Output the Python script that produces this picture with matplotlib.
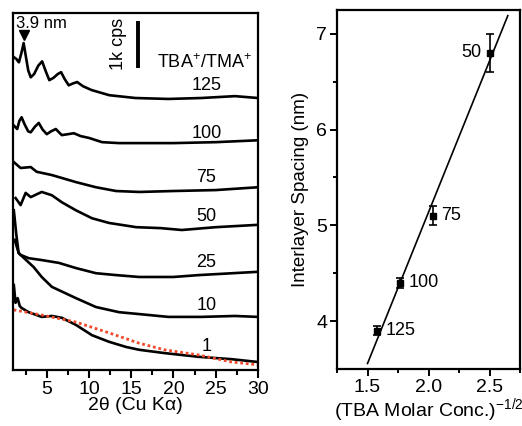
import numpy as np
import matplotlib
matplotlib.use("Agg")
import matplotlib.pyplot as plt

plt.rcParams['font.family'] = ['Liberation Sans', 'DejaVu Sans']
plt.rcParams['mathtext.fontset'] = 'custom'
plt.rcParams['mathtext.rm'] = 'Liberation Sans'
plt.rcParams['mathtext.it'] = 'Liberation Sans:italic'

# XRD traces, 2theta (deg) and offset intensity (kcps), one per TBA+/TMA+ ratio
tt_125 = [1.1, 1.4, 1.7, 2.0, 2.26, 2.5, 2.8, 3.1, 3.5, 4.0, 4.45, 4.9, 5.3, 5.8, 6.3, 6.7, 7.1, 7.6,
          8.1, 8.6, 9.3, 10.3, 12.4, 15.5, 19.4, 23.3, 27.3, 30]
i_125 = [6.66, 6.62, 6.55, 6.75, 6.96, 6.70, 6.38, 6.23, 6.30, 6.48, 6.57, 6.35, 6.17, 6.22, 6.30, 6.34, 6.20, 6.06,
         6.10, 6.13, 6.04, 5.96, 5.85, 5.79, 5.77, 5.79, 5.83, 5.79]

tt_100 = [1.07, 1.5, 1.75, 2.02, 2.4, 2.8, 3.1, 3.6, 4.05, 4.5, 5.0, 5.5, 6.07, 6.5, 6.79, 7.5, 8.21, 9.0,
          10.0, 11.55, 13.57, 15.95, 20, 25, 30]
i_100 = [5.21, 5.13, 5.30, 5.38, 5.22, 5.08, 5.06, 5.18, 5.26, 5.12, 5.02, 5.08, 5.13, 5.05, 5.00, 5.02, 5.04, 4.98,
         4.94, 4.85, 4.83, 4.83, 4.83, 4.85, 4.89]

tt_75 = [1.07, 1.9, 3.1, 3.8, 5.6, 8.45, 10.83, 13.21, 15.95, 20, 25, 30]
i_75 = [4.43, 4.30, 4.32, 4.22, 4.15, 4.00, 3.89, 3.81, 3.79, 3.81, 3.83, 3.89]

tt_50 = [1.31, 1.9, 2.5, 3.1, 4.4, 5.6, 6.79, 8.45, 10.36, 12.38, 15.6, 18.5, 21, 25, 30]
i_50 = [3.66, 3.51, 3.77, 3.68, 3.79, 3.72, 3.57, 3.40, 3.23, 3.13, 3.04, 3.02, 2.98, 3.04, 3.09]

tt_25 = [1.1, 1.4, 1.67, 1.9, 2.86, 4.4, 6.43, 8.45, 10.83, 13.21, 15.95, 20, 23, 27, 30]
i_25 = [3.40, 2.87, 2.49, 2.45, 2.38, 2.34, 2.28, 2.17, 2.06, 2.02, 1.98, 1.98, 2.02, 2.06, 2.09]

tt_10 = [1.2, 1.67, 1.9, 3.45, 4.4, 5.6, 6.43, 8.45, 10.83, 13.57, 15.95, 19.4, 23.3, 27.3, 30]
i_10 = [2.77, 2.49, 2.45, 2.19, 1.98, 1.77, 1.70, 1.53, 1.34, 1.23, 1.19, 1.13, 1.13, 1.15, 1.13]

tt_1 = [1.1, 1.3, 1.55, 1.8, 2.02, 2.86, 4.4, 5.6, 6.79, 8.45, 10.36, 12.38, 14.4, 15.95, 18.93, 22.98, 26.9, 30]
i_1 = [1.81, 1.43, 1.53, 1.36, 1.32, 1.23, 1.13, 1.15, 1.11, 0.96, 0.74, 0.60, 0.49, 0.43, 0.36, 0.28, 0.23, 0.17]

# background reference under the ratio-1 trace
tt_bg = [1.07, 4.4, 8.45, 12.38, 15.95, 18.93, 22.98, 26.9, 30]
i_bg = [1.28, 1.17, 1.02, 0.79, 0.57, 0.43, 0.32, 0.17, 0.11]

ratios = ['125', '100', '75', '50', '25', '10', '1']
label_y = [6.06, 5.04, 4.09, 3.26, 2.28, 1.38, 0.49]

# interlayer spacing vs (TBA molar conc.)^-1/2
conc_x = [1.58, 1.77, 2.04, 2.50]
spacing = [3.9, 4.4, 5.1, 6.8]
spacing_err = [0.05, 0.05, 0.1, 0.2]
pt_labels = ['125', '100', '75', '50']

fig = plt.figure(figsize=(5.22, 4.26), dpi=100)
ax1 = fig.add_axes([0.0249, 0.1315, 0.469, 0.838])
ax2 = fig.add_axes([0.6456, 0.1338, 0.3506, 0.843])

# --- left: XRD patterns ---
for tt, ii in [(tt_125, i_125), (tt_100, i_100), (tt_75, i_75), (tt_50, i_50),
               (tt_25, i_25), (tt_10, i_10), (tt_1, i_1)]:
    ax1.plot(tt, ii, color='black', lw=1.9, solid_joinstyle='round')
ax1.plot(tt_bg, i_bg, color='#f04a2a', lw=2, linestyle=(0, (1, 1)))

for r, y in zip(ratios, label_y):
    ax1.text(23.9, y, r, fontsize=13, ha='center', va='center')

ax1.plot([2.26], [7.13], marker='v', color='black', markersize=7)
ax1.text(4.4, 7.37, '3.9 nm', fontsize=12, ha='center', va='center')
ax1.plot([15.8, 15.8], [6.43, 7.43], color='black', lw=2.8, solid_capstyle='butt')
ax1.text(13.5, 6.94, '1k cps', fontsize=13, rotation=90, ha='center', va='center')
ax1.text(23.7, 6.55, 'TBA$^{+}$/TMA$^{+}$', fontsize=13, ha='center', va='center')

ax1.set_xlim(1, 30)
ax1.set_ylim(0, 7.6)
ax1.set_xticks([5, 10, 15, 20, 25, 30])
ax1.set_xticks(np.arange(2.5, 30.1, 2.5), minor=True)
ax1.set_yticks([])
ax1.tick_params(axis='x', which='major', direction='out', length=6, width=1.5, labelsize=14, pad=2)
ax1.tick_params(axis='x', which='minor', direction='out', length=3.5, width=1.5)
ax1.set_xlabel('2θ (Cu Kα)', fontsize=14, labelpad=-1)
for s in ax1.spines.values():
    s.set_linewidth(1.6)

# --- right: spacing fit ---
slope, icpt = np.polyfit(conc_x, spacing, 1)
fx = np.array([1.5, 2.65])
ax2.plot(fx, slope * fx + icpt, color='black', lw=1.2)
ax2.errorbar(conc_x, spacing, yerr=spacing_err, fmt='s', color='black',
             markersize=4.5, capsize=3, elinewidth=1.2, capthick=1.2)
for x, y, t in zip(conc_x, spacing, pt_labels):
    if t == '50':
        ax2.text(x - 0.065, y, t, fontsize=13, ha='right', va='center')
    else:
        ax2.text(x + 0.065, y, t, fontsize=13, ha='left', va='center')

ax2.set_xlim(1.25, 2.75)
ax2.set_ylim(3.5, 7.25)
ax2.set_xticks([1.5, 2.0, 2.5])
ax2.set_xticks([1.25, 1.75, 2.25, 2.75], minor=True)
ax2.set_yticks([4, 5, 6, 7])
ax2.set_yticks([4.5, 5.5, 6.5], minor=True)
ax2.tick_params(which='major', direction='out', length=5, width=1.4, labelsize=14, pad=2)
ax2.tick_params(which='minor', direction='out', length=3, width=1.4)
ax2.set_xlabel('(TBA Molar Conc.)$^{-1/2}$', fontsize=14, labelpad=0)
ax2.set_ylabel('Interlayer Spacing (nm)', fontsize=13.5, labelpad=5)
for s in ax2.spines.values():
    s.set_linewidth(1.6)

fig.savefig('out.png', dpi=100)
